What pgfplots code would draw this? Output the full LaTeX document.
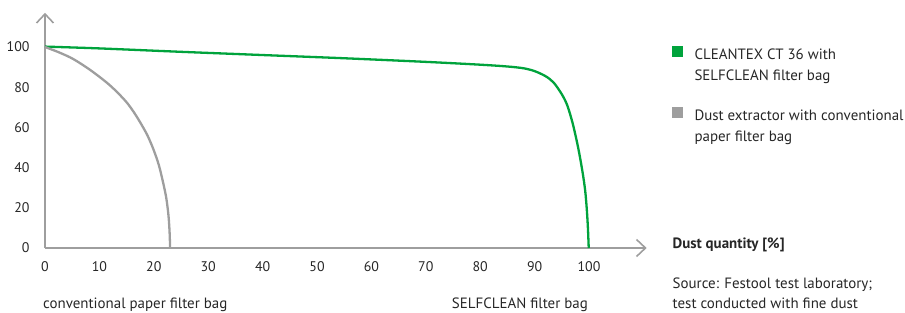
\documentclass[border=0pt]{standalone}
\usepackage{pgfplots}
\pgfplotsset{compat=1.18}
\usepackage{fontspec}
\setmainfont{PT Sans}
\usetikzlibrary{arrows.meta}
\definecolor{fgreen}{HTML}{00A33C}
\definecolor{fgray}{HTML}{9E9E9E}
\definecolor{ftext}{HTML}{262626}
\begin{document}
\begin{tikzpicture}
\path[use as bounding box] (0bp,0bp) rectangle (905bp,313bp);
\begin{axis}[
  at={(45bp,65bp)}, anchor=south west,
  x=5.44bp, y=2.01bp,
  xmin=0, xmax=110.6, ymin=0, ymax=117,
  axis lines=left,
  axis line style={fgray, line width=2bp, -{Straight Barb[length=9bp,width=17bp,line width=1.6bp]}},
  xtick={0,10,...,100}, ytick={0,20,...,100},
  major tick length=0pt,
  tick label style={font=\fontsize{14}{16}\selectfont, text=ftext},
  /pgf/number format/assume math mode=true,
  xticklabel style={yshift=-10bp},
  yticklabel style={xshift=-12bp},
  clip=false,
  legend cell align=left,
  legend style={at={(1.041,0.86)}, anchor=north west, draw=none, fill=none,
    font=\fontsize{15}{21.4}\selectfont, text=ftext, inner sep=0pt,
    row sep=23bp, column sep=0pt,
    cells={align=left}},
  legend image code/.code={\fill[#1,draw=none] (0bp,8.5bp) rectangle (11bp,19.5bp);\path[draw=none,fill=none] (0bp,0bp) rectangle (21bp,0.1bp);},
]
\addplot[color=fgreen, line width=2.3bp, smooth, tension=0.5] coordinates {
(0,100.2)(10,99.3)(25,97.6)(40,96.0)(55,94.4)(70,92.6)(80,91.2)(85,90.3)(88,89.4)(90,88.0)(92,85.5)(93.5,82.3)(95,76.5)(96,71)(97,62)(98,50)(98.8,38)(99.3,28.5)(99.6,19)(99.8,10)(99.95,0)};
\addlegendentry{CLEANTEX CT 36 with\\SELFCLEAN filter bag}
\addplot[color=fgray, line width=2.3bp, smooth, tension=0.5] coordinates {
(0,100)(2.6,97.3)(5.2,94)(8.3,88.6)(11.3,82.4)(13.2,77.7)(15,72.5)(16.3,67.7)(17.5,62.5)(18.8,56.2)(19.9,49.3)(20.9,41.5)(21.7,32.7)(22.3,24.8)(22.7,16.1)(22.9,8)(23,0)};
\addlegendentry{Dust extractor with conventional\\paper filter bag}
\end{axis}
\begin{scope}[font=\fontsize{15}{21.4}\selectfont, text=ftext]
\node[anchor=base west, inner sep=0pt] at (672.5bp,64.7bp) {\bfseries Dust quantity [\%]};
\node[anchor=base west, inner sep=0pt] at (672.5bp,24.7bp) {Source: Festool test laboratory;};
\node[anchor=base west, inner sep=0pt] at (672.5bp,4.7bp) {test conducted with fine dust};
\node[anchor=base west, inner sep=0pt] at (43bp,4.5bp) {conventional paper filter bag};
\node[anchor=base west, inner sep=0pt] at (451.7bp,4.7bp) {SELFCLEAN filter bag};
\end{scope}
\end{tikzpicture}
\end{document}
